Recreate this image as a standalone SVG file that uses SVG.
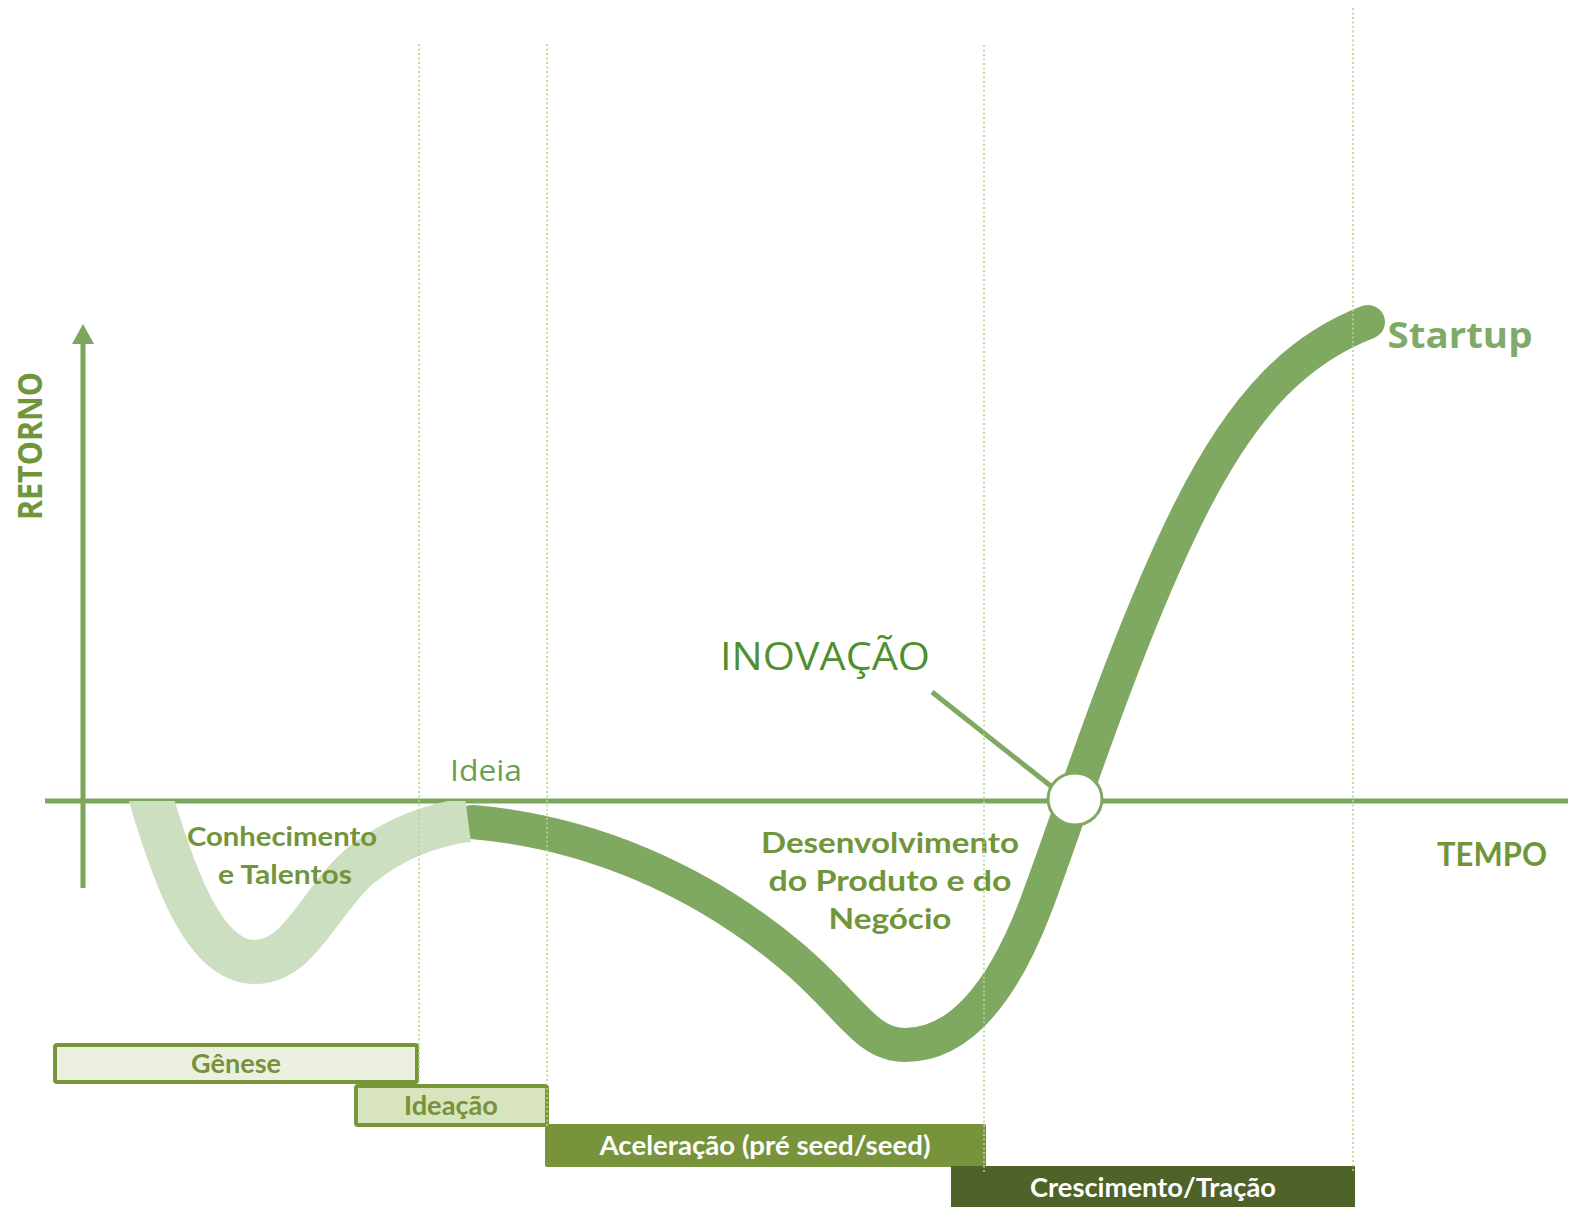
<svg xmlns="http://www.w3.org/2000/svg" width="1575" height="1212" viewBox="0 0 1575 1212">
  <style>
    .axis { stroke: #7ba65c; stroke-width: 5; fill: none; }
    .guide { stroke: #b9d58f; stroke-width: 1.6; stroke-dasharray: 2 2.5; fill: none; }
    .lbl { font-family: Lato, "Liberation Sans", sans-serif; font-weight: bold; fill: #70953a; text-anchor: middle; }
    .seg { font-family: "Open Sans", "Liberation Sans", sans-serif; text-anchor: middle; }
    .bar-light { stroke: #77953a; stroke-width: 4; }
    .bar-text { font-family: Lato, "Liberation Sans", sans-serif; font-weight: bold; font-size: 26px; text-anchor: middle; }
  </style>
  <defs>
    <marker id="arrow" markerUnits="userSpaceOnUse" markerWidth="20" markerHeight="22" refX="2" refY="11" orient="auto" viewBox="0 0 20 22">
      <polygon points="0,0 20,11 0,22" fill="#7ba65c"/>
    </marker>
    <clipPath id="below-axis">
      <rect x="0" y="801" width="1575" height="411"/>
    </clipPath>
  </defs>
  <rect width="1575" height="1212" fill="#ffffff"/>

  <g id="axes">
    <line class="axis" x1="83" y1="888" x2="83" y2="342" marker-end="url(#arrow)"/>
    <line class="axis" x1="45" y1="801" x2="1568" y2="801"/>
  </g>

  <g id="curve-dark">
    <path d="M 472 822 C 590 832, 700 880, 790 955 C 850 1005, 865 1045, 905 1045 C 955 1045, 1000 1000, 1036 905 C 1070 815, 1125 640, 1190 510 C 1245 400, 1300 348, 1368 322" fill="none" stroke="#7fa860" stroke-width="34" stroke-linecap="round"/>
  </g>

  <g id="curve-light">
    <path clip-path="url(#below-axis)" d="M 150 795 C 175 880, 205 962, 255 962 C 300 962, 320 900, 360 866 C 395 838, 430 825, 468 820" fill="none" stroke="#cddfc1" stroke-width="44" stroke-linecap="butt"/>
  </g>

  <g id="axis-labels">
    <text class="lbl" transform="translate(42,446) rotate(-90)" x="0" y="0" font-size="34" textLength="148" lengthAdjust="spacingAndGlyphs" style="font-family:'Open Sans','Liberation Sans',sans-serif">RETORNO</text>
    <text class="lbl" x="1492" y="866" font-size="32" textLength="110" lengthAdjust="spacingAndGlyphs">TEMPO</text>
  </g>

  <g id="label-conhecimento">
    <text class="lbl" x="282" y="846" font-size="26" textLength="190" lengthAdjust="spacingAndGlyphs">Conhecimento</text>
    <text class="lbl" x="285" y="884" font-size="26" textLength="134" lengthAdjust="spacingAndGlyphs">e Talentos</text>
  </g>

  <g id="label-ideia">
    <text class="seg" x="486" y="781" font-size="30" fill="#6a9e52" textLength="72" lengthAdjust="spacingAndGlyphs">Ideia</text>
  </g>

  <g id="label-desenvolvimento">
    <text class="lbl" x="890" y="853" font-size="29" textLength="258" lengthAdjust="spacingAndGlyphs">Desenvolvimento</text>
    <text class="lbl" x="890" y="891" font-size="29" textLength="243" lengthAdjust="spacingAndGlyphs">do Produto e do</text>
    <text class="lbl" x="890" y="929" font-size="29" textLength="123" lengthAdjust="spacingAndGlyphs">Negócio</text>
  </g>

  <g id="label-startup">
    <text class="seg" x="1460" y="348" font-size="36" font-weight="bold" fill="#80aa68" textLength="145" lengthAdjust="spacingAndGlyphs">Startup</text>
  </g>

  <g id="connectors">
    <line x1="932" y1="692" x2="1052" y2="787" stroke="#7fa860" stroke-width="5"/>
  </g>

  <g id="inovacao">
    <text class="seg" x="825" y="670" font-size="39" fill="#4f8f2f" textLength="210" lengthAdjust="spacingAndGlyphs">INOVAÇÃO</text>
    <ellipse cx="1075" cy="799" rx="27" ry="26" fill="#ffffff" stroke="#7fa860" stroke-width="3"/>
  </g>

  <g id="bar-genese">
    <rect class="bar-light" x="55" y="1045" width="362" height="37" rx="2" fill="#ebf1de"/>
    <text class="bar-text" x="236" y="1073" fill="#76923c" textLength="90" lengthAdjust="spacingAndGlyphs">Gênese</text>
  </g>

  <g id="bar-ideacao">
    <rect class="bar-light" x="356" y="1086" width="191" height="39" rx="2" fill="#d7e4bd"/>
    <text class="bar-text" x="451" y="1115" fill="#76923c" textLength="94" lengthAdjust="spacingAndGlyphs">Ideação</text>
  </g>

  <g id="bar-aceleracao">
    <rect x="545" y="1124" width="441" height="43" rx="2" fill="#77933c"/>
    <text class="bar-text" x="765" y="1155" fill="#ffffff" textLength="331" lengthAdjust="spacingAndGlyphs">Aceleração (pré seed/seed)</text>
  </g>

  <g id="bar-crescimento">
    <rect x="951" y="1166" width="404" height="41" fill="#4f6228"/>
    <text class="bar-text" x="1153" y="1197" fill="#ffffff" textLength="246" lengthAdjust="spacingAndGlyphs">Crescimento/Tração</text>
  </g>

  <g id="guides">
    <line class="guide" x1="419" y1="44" x2="419" y2="1084"/>
    <line class="guide" x1="547" y1="44" x2="547" y2="1127"/>
    <line class="guide" x1="984" y1="45" x2="984" y2="1172"/>
    <line class="guide" x1="1353" y1="8" x2="1353" y2="1172"/>
  </g>
</svg>
